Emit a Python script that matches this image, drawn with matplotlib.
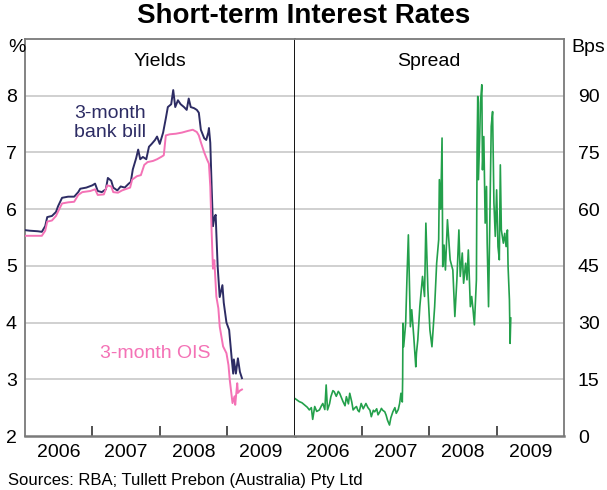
import matplotlib
matplotlib.use("Agg")
import matplotlib.pyplot as plt

plt.rcParams['font.family'] = ['Liberation Sans', 'DejaVu Sans']

# ---- data (fractional years) ----
bank_t = [2006.00, 2006.07, 2006.19, 2006.25, 2006.30, 2006.33, 2006.40, 2006.46, 2006.49, 2006.55,
          2006.64, 2006.73, 2006.79, 2006.82, 2006.91, 2007.00, 2007.04, 2007.08, 2007.14, 2007.20,
          2007.23, 2007.28, 2007.31, 2007.37, 2007.42, 2007.48, 2007.54, 2007.57, 2007.60, 2007.65,
          2007.68, 2007.71, 2007.75, 2007.80, 2007.84, 2007.88, 2007.93, 2007.96, 2008.00, 2008.05,
          2008.09, 2008.12, 2008.17, 2008.20, 2008.23, 2008.27, 2008.31, 2008.36, 2008.40, 2008.43,
          2008.46, 2008.51, 2008.55, 2008.58, 2008.61, 2008.66, 2008.69, 2008.72, 2008.73, 2008.75,
          2008.77, 2008.79, 2008.81, 2008.83, 2008.84, 2008.86, 2008.89, 2008.93, 2008.95, 2008.99,
          2009.03, 2009.07, 2009.09, 2009.10, 2009.13, 2009.16, 2009.19, 2009.22]
bank_v = [5.63, 5.62, 5.61, 5.60, 5.70, 5.86, 5.88, 5.95, 6.05, 6.20,
          6.22, 6.22, 6.30, 6.36, 6.38, 6.42, 6.45, 6.32, 6.30, 6.35,
          6.55, 6.50, 6.38, 6.33, 6.40, 6.38, 6.45, 6.48, 6.70, 6.90,
          7.05, 6.88, 6.92, 6.88, 7.10, 7.15, 7.22, 7.28, 7.15, 7.35,
          7.60, 7.80, 7.85, 8.10, 7.80, 7.92, 7.85, 7.80, 7.75, 7.95,
          7.80, 7.78, 7.75, 7.70, 7.40, 7.25, 7.22, 7.35, 7.43, 7.17,
          6.40, 5.70, 5.85, 5.90, 5.58, 4.98, 4.45, 4.66, 4.35, 4.00,
          3.87, 3.34, 3.10, 3.35, 3.10, 3.37, 3.13, 3.02]

ois_t = [2006.00, 2006.25, 2006.30, 2006.33, 2006.40, 2006.46, 2006.50, 2006.55, 2006.64, 2006.73,
         2006.79, 2006.85, 2006.97, 2007.04, 2007.08, 2007.17, 2007.22, 2007.28, 2007.31, 2007.38,
         2007.44, 2007.51, 2007.56, 2007.59, 2007.66, 2007.72, 2007.77, 2007.82, 2007.90, 2007.96,
         2008.02, 2008.06, 2008.09, 2008.15, 2008.24, 2008.33, 2008.42, 2008.49, 2008.55, 2008.58,
         2008.61, 2008.66, 2008.70, 2008.73, 2008.75, 2008.77, 2008.79, 2008.81, 2008.84, 2008.87,
         2008.89, 2008.94, 2008.99, 2009.02, 2009.04, 2009.08, 2009.11, 2009.12, 2009.15, 2009.16,
         2009.19, 2009.22]
ois_v = [5.53, 5.53, 5.62, 5.78, 5.80, 5.88, 5.98, 6.10, 6.12, 6.13,
         6.25, 6.30, 6.32, 6.35, 6.25, 6.26, 6.42, 6.40, 6.30, 6.29,
         6.33, 6.36, 6.38, 6.52, 6.58, 6.60, 6.78, 6.83, 6.85, 6.88,
         6.92, 6.95, 7.30, 7.32, 7.33, 7.35, 7.38, 7.40, 7.36, 7.30,
         7.18, 7.00, 6.88, 6.80, 6.40, 5.60, 4.95, 5.10, 4.46, 4.25,
         3.93, 3.58, 3.46, 3.25, 2.98, 2.58, 2.70, 2.55, 2.93, 2.76,
         2.80, 2.82]

spread_t = [2006.00, 2006.04, 2006.07, 2006.11, 2006.15, 2006.19, 2006.22, 2006.25, 2006.27, 2006.30,
            2006.33, 2006.37, 2006.40, 2006.42, 2006.45, 2006.47, 2006.49, 2006.52, 2006.54, 2006.57,
            2006.59, 2006.62, 2006.65, 2006.67, 2006.70, 2006.72, 2006.75, 2006.77, 2006.80, 2006.82,
            2006.85, 2006.87, 2006.90, 2006.92, 2006.94, 2006.96, 2006.99, 2007.02, 2007.06, 2007.09,
            2007.12, 2007.14, 2007.17, 2007.19, 2007.22, 2007.24, 2007.27, 2007.29, 2007.31, 2007.34,
            2007.36, 2007.38, 2007.41, 2007.43, 2007.46, 2007.49, 2007.51, 2007.54, 2007.56, 2007.58,
            2007.60, 2007.605, 2007.61, 2007.62, 2007.65, 2007.67, 2007.69, 2007.72, 2007.74, 2007.77,
            2007.80, 2007.81, 2007.83, 2007.86, 2007.90, 2007.93, 2007.95, 2007.98, 2008.01, 2008.04,
            2008.08, 2008.11, 2008.14, 2008.15, 2008.17, 2008.19, 2008.20, 2008.22, 2008.24, 2008.27,
            2008.29, 2008.31, 2008.35, 2008.38, 2008.41, 2008.44, 2008.46, 2008.49, 2008.51, 2008.54,
            2008.56, 2008.58, 2008.61, 2008.63, 2008.65, 2008.67, 2008.70, 2008.71, 2008.72, 2008.73,
            2008.75, 2008.76, 2008.78, 2008.79, 2008.81, 2008.83, 2008.85, 2008.86, 2008.88, 2008.90,
            2008.92, 2008.94, 2008.96, 2008.98, 2009.00, 2009.02, 2009.04, 2009.055, 2009.07, 2009.10,
            2009.12, 2009.14, 2009.16, 2009.17, 2009.19, 2009.20, 2009.21]
spread_v = [10.0, 9.5, 9.1, 8.8, 8.2, 7.6, 6.9, 7.5, 4.4, 7.8,
            6.5, 6.9, 8.0, 8.6, 7.0, 13.5, 6.9, 8.5, 10.4, 12.0,
            11.7, 10.5, 11.8, 11.3, 10.0, 9.1, 8.0, 10.4, 8.5, 11.3,
            9.0, 6.9, 7.5, 7.8, 6.8, 6.4, 8.6, 7.2, 8.6, 7.5,
            6.8, 5.1, 6.8, 6.4, 7.2, 5.6, 6.5, 7.3, 6.8, 6.4,
            5.5, 4.2, 2.9, 4.8, 6.4, 7.5, 6.0, 7.0, 8.6, 11.3,
            9.0, 14.8, 29.8, 23.6, 29.8, 42.2, 53.2, 28.9, 33.4, 26.3,
            18.3, 21.9, 25.4, 34.2, 42.2, 36.9, 56.3, 38.6, 28.0, 23.6,
            34.2, 45.7, 51.9, 67.8, 60.0, 78.8, 44.8, 50.5, 43.9, 57.2,
            51.9, 46.6, 43.9, 31.6, 41.3, 54.5, 42.2, 48.4, 40.4, 45.7,
            41.3, 49.2, 34.2, 36.9, 33.4, 29.4, 41.3, 75.7, 89.8, 67.8,
            80.0, 88.1, 92.9, 70.4, 79.2, 56.3, 66.0, 51.0, 34.2, 57.2,
            81.9, 85.8, 61.6, 52.8, 65.1, 50.1, 46.6, 71.7, 54.5, 51.0,
            53.6, 50.1, 54.5, 44.8, 36.0, 24.5, 31.2]

years = [2006, 2007, 2008, 2009]
yield_ticks = [2, 3, 4, 5, 6, 7, 8]
spread_ticks = [0, 15, 30, 45, 60, 75, 90]

# ---- figure ----
W, H = 607, 490
fig = plt.figure(figsize=(W / 100, H / 100), dpi=100)
L, R, B, T = 25 / W, 564 / W, 1 - 436 / H, 1 - 39 / H
mid = (L + R) / 2
ax1 = fig.add_axes([L, B, mid - L, T - B])
ax2 = fig.add_axes([mid, B, R - mid, T - B])

navy = '#2d2c64'
pink = '#f472b6'
green = '#23a04b'
grid_c = '#c8c8c8'
frame_c = '#7a7a7a'

ax1.plot(bank_t, bank_v, color=navy, lw=1.4, zorder=3)
ax1.plot(ois_t, ois_v, color=pink, lw=1.4, zorder=3)
ax2.plot(spread_t, spread_v, color=green, lw=1.2, zorder=3)

for ax, ticks, lim in ((ax1, yield_ticks, (2, 9)), (ax2, spread_ticks, (0, 105))):
    ax.set_xlim(2006, 2010)
    ax.set_ylim(*lim)
    ax.set_yticks(ticks)
    for v in ticks[1:]:
        ax.axhline(v, color=grid_c, lw=1.2, zorder=1)
    ax.set_xticks([y + 1 for y in years[:-1]])
    ax.set_xticklabels([])
    ax.set_xticks([y + 0.5 for y in years], minor=True)
    ax.set_xticklabels([str(y) for y in years], minor=True)
    ax.tick_params(axis='x', which='major', direction='in', length=7, width=1.2, color='#333333')
    ax.tick_params(axis='x', which='minor', length=0, labelsize=14, pad=6, colors='black')
    ax.tick_params(axis='y', length=0, labelsize=14)
    for s in ax.spines.values():
        s.set_color(frame_c)
        s.set_linewidth(1.3)
    ax.spines['bottom'].set_linewidth(1.8)

ax1.tick_params(axis='y', pad=6)
ax2.yaxis.tick_right()
ax2.tick_params(axis='y', pad=10, labelright=True, labelleft=False)
ax1.spines['right'].set_color('black')
ax1.spines['right'].set_linewidth(1.3)
ax2.spines['left'].set_visible(False)

ax1.text(0.5, 0.965, 'Yields', transform=ax1.transAxes, ha='center', va='top', fontsize=14)
ax2.text(0.5, 0.965, 'Spread', transform=ax2.transAxes, ha='center', va='top', fontsize=14)

ax1.text(2007.26, 7.52, '3-month\nbank bill', color=navy, fontsize=14, ha='center', va='center',
         linespacing=1.2)
ax1.text(2007.94, 3.46, '3-month OIS', color=pink, fontsize=14, ha='center', va='center')

fig.text(8 / W, 1 - 47 / H, '%', fontsize=14, ha='left', va='center')
fig.text(588 / W, 1 - 47 / H, 'Bps', fontsize=14, ha='center', va='center')
fig.text(0.5, 1 - 16 / H, 'Short-term Interest Rates', fontsize=20, fontweight='bold',
         ha='center', va='center')
fig.text(8 / W, 1 - 480 / H, 'Sources: RBA; Tullett Prebon (Australia) Pty Ltd', fontsize=12,
         ha='left', va='center')

fig.savefig('out.png', dpi=100)
